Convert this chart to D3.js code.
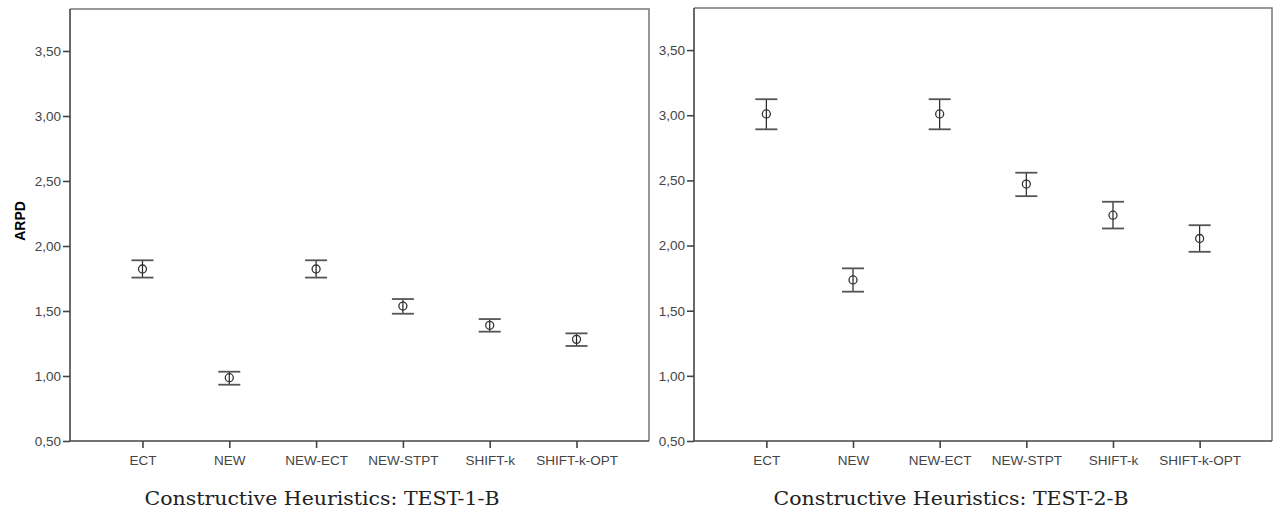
<!DOCTYPE html>
<html lang="en">
<head>
  <meta charset="UTF-8">
  <title>ARPD error bars</title>
  <script src="https://cdn.jsdelivr.net/npm/d3@7/dist/d3.min.js"></script>
  <style>
    body { margin: 0; background: #fff; }
    .tick text { font-family: "Liberation Sans", Arial, sans-serif; font-size: 13.5px; fill: #444; }
    .title { font-family: "DejaVu Serif", "Liberation Serif", serif; font-size: 19px; fill: #222; }
  </style>
</head>
<body>
<script>
  // data
  const categories = ["ECT", "NEW", "NEW-ECT", "NEW-STPT", "SHIFT-k", "SHIFT-k-OPT"];
  const yTicks = [0.5, 1.0, 1.5, 2.0, 2.5, 3.0, 3.5];

  // TEST-1-B
  const mean1 = [1.823, 0.987, 1.823, 1.538, 1.390, 1.282];
  const low1  = [1.757, 0.933, 1.757, 1.479, 1.341, 1.231];
  const high1 = [1.890, 1.033, 1.890, 1.592, 1.438, 1.328];

  // TEST-2-B
  const mean2 = [3.010, 1.736, 3.010, 2.472, 2.233, 2.054];
  const low2  = [2.892, 1.646, 2.892, 2.379, 2.131, 1.952];
  const high2 = [3.123, 1.825, 3.123, 2.559, 2.336, 2.156];

  const titles = ["Constructive Heuristics: TEST-1-B", "Constructive Heuristics: TEST-2-B"];

  const svg = d3.select("body").append("svg")
    .attr("width", 1276).attr("height", 518);

  const fmt = d => d3.format(".2f")(d).replace(".", ",");

  function panel(left, right, top, mean, low, high, title, titleX, showLabel) {
    const bottom = 441;
    let y = d3.scaleLinear().domain([0.5, 3.823]).range([bottom, top]);
    let x = d3.scalePoint().domain(categories).range([left, right]).padding(0.835);

    let g = svg.append("g");

    // frame (top and right)
    g.append("path")
      .attr("d", `M${left},${top}H${right}V${bottom}`)
      .attr("fill", "none").attr("stroke", "#777").attr("stroke-width", 1.5);

    // axes
    let ay = g.append("g").attr("transform", `translate(${left},0)`)
      .call(d3.axisLeft(y).tickValues(yTicks).tickFormat(fmt).tickSize(7).tickPadding(2));
    let ax = g.append("g").attr("transform", `translate(0,${bottom})`)
      .call(d3.axisBottom(x).tickSize(7).tickPadding(7));
    [ay, ax].forEach(a => {
      a.select(".domain").attr("stroke", "#444").attr("stroke-width", 1.6);
      a.selectAll(".tick line").attr("stroke", "#444").attr("stroke-width", 1.6);
    });
    ay.select(".domain").attr("d", `M0,${bottom}V${top}`);
    ax.select(".domain").attr("d", `M${left},0H${right}`);

    let idx = d3.range(categories.length);

    // whiskers
    g.selectAll(".whisker").data(idx).enter().append("line")
      .attr("x1", i => x(categories[i])).attr("x2", i => x(categories[i]))
      .attr("y1", i => y(low[i])).attr("y2", i => y(high[i]))
      .attr("stroke", "#222").attr("stroke-width", 1.2);

    // caps
    [low, high].forEach(arr => {
      g.selectAll(null).data(idx).enter().append("line")
        .attr("x1", i => x(categories[i]) - 11).attr("x2", i => x(categories[i]) + 11)
        .attr("y1", i => y(arr[i])).attr("y2", i => y(arr[i]))
        .attr("stroke", "#555").attr("stroke-width", 1.8);
    });

    // means
    g.selectAll(".mean").data(idx).enter().append("circle")
      .attr("cx", i => x(categories[i])).attr("cy", i => y(mean[i]))
      .attr("r", 4).attr("fill", "none").attr("stroke", "#333").attr("stroke-width", 1.3);

    if (showLabel) {
      g.append("text")
        .attr("transform", `translate(25,${(top + bottom) / 2 - 4}) rotate(-90)`)
        .attr("text-anchor", "middle")
        .style("font-family", "'Liberation Sans', Arial, sans-serif")
        .style("font-size", "14px").style("font-weight", "bold")
        .text("ARPD");
    }

    svg.append("text").attr("class", "title")
      .attr("x", titleX).attr("y", 505).attr("text-anchor", "middle")
      .attr("textLength", 355).attr("lengthAdjust", "spacingAndGlyphs")
      .text(title);
  }

  panel(70, 649, 9, mean1, low1, high1, titles[0], 322, true);
  panel(694, 1272, 8, mean2, low2, high2, titles[1], 951, false);
</script>
</body>
</html>
